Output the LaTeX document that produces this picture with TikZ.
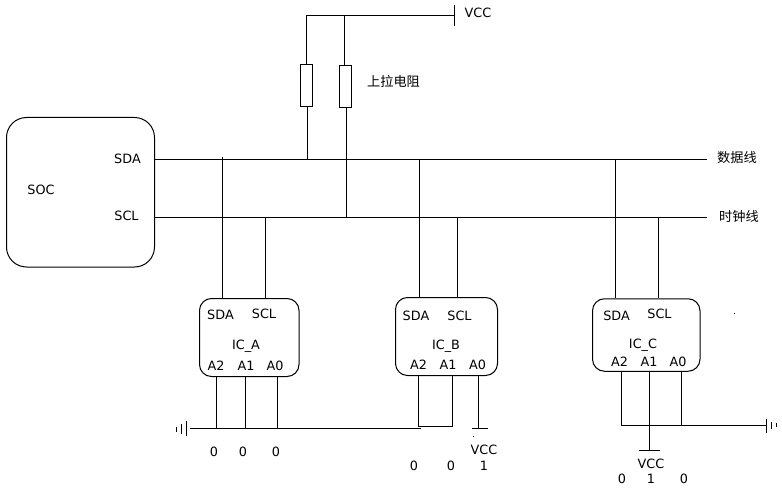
\documentclass[tikz,border=0pt]{standalone}
\usepackage{fontspec}
\setmainfont{DejaVu Sans}
\newfontfamily\cjkfont{Noto Sans CJK SC}
\tikzset{
  wire/.style={draw=black,line width=1pt},
  chipbox/.style={draw=black,line width=1pt,rectangle,inner sep=0pt,fill=white},
  lbl/.style={inner sep=0pt,text=black,font=\fontsize{12.8}{14}\selectfont},
  cjklbl/.style={inner sep=0pt,text=black,font=\fontsize{13.2}{15}\selectfont\cjkfont},
  resbox/.style={draw=black,line width=1pt,rectangle,inner sep=0pt,minimum width=12pt,minimum height=41.5pt,fill=white},
}
\begin{document}
\begin{tikzpicture}[x=1pt,y=-1pt]
\useasboundingbox[fill=white] (0,0) rectangle (782,492);
% boxes
\node[chipbox,rounded corners=20pt,minimum width=148pt,minimum height=149.5pt] (soc) at (80.5,192.25) {};
\node[chipbox,rounded corners=12pt,minimum width=99.5pt,minimum height=78pt] (ica) at (249.25,337.5) {};
\node[chipbox,rounded corners=12pt,minimum width=102pt,minimum height=78pt] (icb) at (446.5,336.5) {};
\node[chipbox,rounded corners=12pt,minimum width=107.5pt,minimum height=72.5pt] (icc) at (646.25,335) {};
\node[resbox] (r1) at (306.5,85.75) {};
\node[resbox] (r2) at (345.5,86.75) {};
% free-end coordinates
\coordinate (vccL) at (306.5,15.5);
\coordinate (vccM) at (344.5,15.5);
\coordinate (vccR) at (454.5,15.5);
\coordinate (vccT) at (454.5,5);
\coordinate (vccB) at (454.5,26);
\coordinate (dataEnd) at (707,159.5);
\coordinate (clkEnd) at (707,217.5);
\coordinate (r1bus) at (307.5,160);
\coordinate (r2bus) at (346.5,217.5);
% top pull-up
\draw[wire] (r1.north -| vccL) -- (vccL) -- (vccR);
\draw[wire] (vccM) -- (r2.north -| vccM);
\draw[wire] (vccT) -- (vccB);
\draw[wire] (r1bus |- r1.south) -- (r1bus);
\draw[wire] (r2bus |- r2.south) -- (r2bus);
% buses
\draw[wire] (soc.east |- dataEnd) -- (dataEnd);
\draw[wire] (soc.east |- clkEnd) -- (clkEnd);
% drops
\coordinate (aDa) at (222.5,157);
\coordinate (aCl) at (265.5,217.5);
\coordinate (bDa) at (419.5,159.5);
\coordinate (bCl) at (457.5,217.5);
\coordinate (cDa) at (615.5,159.5);
\coordinate (cCl) at (658.5,217.5);
\draw[wire] (aDa) -- (aDa |- ica.north);
\draw[wire] (aCl) -- (aCl |- ica.north);
\draw[wire] (bDa) -- (bDa |- icb.north);
\draw[wire] (bCl) -- (bCl |- icb.north);
\draw[wire] (cDa) -- (cDa |- icc.north);
\draw[wire] (cCl) -- (cCl |- icc.north);
% IC_A address lines
\coordinate (aGndS) at (190,428.5);
\coordinate (aGndE) at (421,428.5);
\coordinate (a2) at (216.5,428.5);
\coordinate (a1) at (245.5,428.5);
\coordinate (a0) at (277.5,428.5);
\draw[wire] (aGndS) -- (aGndE);
\draw[wire] (a2 |- ica.south) -- (a2);
\draw[wire] (a1 |- ica.south) -- (a1);
\draw[wire] (a0 |- ica.south) -- (a0);
\coordinate (g1t) at (186.5,421); \coordinate (g1b) at (186.5,436);
\coordinate (g2t) at (181.5,423.5); \coordinate (g2b) at (181.5,433.5);
\coordinate (g3t) at (176.5,426.5); \coordinate (g3b) at (176.5,431.5);
\draw[wire] (g1t) -- (g1b);
\draw[wire] (g2t) -- (g2b);
\draw[wire] (g3t) -- (g3b);
% IC_B address lines
\coordinate (b2) at (418.5,426.5);
\coordinate (b1) at (452.5,426.5);
\coordinate (b0) at (478.5,428.5);
\coordinate (bVl) at (472,428.5);
\coordinate (bVr) at (488,428.5);
\draw[wire] (b2 |- icb.south) -- (b2) -- (b1) -- (b1 |- icb.south);
\draw[wire] (b0 |- icb.south) -- (b0);
\draw[wire] (bVl) -- (bVr);
\fill[black] (473,435.5) rectangle (474,436.5);
% IC_C address lines
\coordinate (c2) at (621.5,425.5);
\coordinate (c1) at (649.5,425.5);
\coordinate (c0) at (681.5,425.5);
\coordinate (cGndE) at (766.5,425.5);
\coordinate (cVcc) at (649.5,450.5);
\coordinate (cVl) at (639,450.5);
\coordinate (cVr) at (660,450.5);
\draw[wire] (c2 |- icc.south) -- (c2) -- (cGndE);
\draw[wire] (c1 |- icc.south) -- (cVcc);
\draw[wire] (c0 |- icc.south) -- (c0);
\draw[wire] (cVl) -- (cVr);
\coordinate (h1t) at (766.5,419); \coordinate (h1b) at (766.5,432.5);
\coordinate (h2t) at (771.5,422); \coordinate (h2b) at (771.5,429);
\coordinate (h3t) at (776.5,423); \coordinate (h3b) at (776.5,427);
\draw[wire] (h1t) -- (h1b);
\draw[wire] (h2t) -- (h2b);
\draw[wire] (h3t) -- (h3b);
\fill[black] (734,313) rectangle (735,314);
% labels
\node[lbl] (tVcc) at (478,13) {VCC};
\node[cjklbl] (tPull) at (393.5,81) {上拉电阻};
\node[cjklbl] (tData) at (737,157) {数据线};
\node[cjklbl] (tClk) at (739,216.5) {时钟线};
\node[lbl] (tSda) at (127.5,158.5) {SDA};
\node[lbl] (tScl) at (126.5,216) {SCL};
\node[lbl] (tSoc) at (41,190) {SOC};
% IC_A
\node[lbl] (aSda) at (220.5,314.5) {SDA};
\node[lbl] (aScl) at (264,313.5) {SCL};
\node[lbl] (aName) at (246,346) {IC\_A};
\node[lbl] (aA2) at (216,366) {A2};
\node[lbl] (aA1) at (246,366) {A1};
\node[lbl] (aA0) at (275,366) {A0};
\node[lbl] (aD2) at (214,451.5) {0};
\node[lbl] (aD1) at (243,451.5) {0};
\node[lbl] (aD0) at (276,451.5) {0};
% IC_B
\node[lbl] (bSda) at (416,315.5) {SDA};
\node[lbl] (bScl) at (459.5,315.5) {SCL};
\node[lbl] (bName) at (446,346.5) {IC\_B};
\node[lbl] (bA2) at (418.5,365) {A2};
\node[lbl] (bA1) at (448,365) {A1};
\node[lbl] (bA0) at (477.5,365) {A0};
\node[lbl] (bVcc) at (484,450) {VCC};
\node[lbl] (bD2) at (414,466) {0};
\node[lbl] (bD1) at (451,466) {0};
\node[lbl] (bD0) at (484,466) {1};
% IC_C
\node[lbl] (cSda) at (616.5,315.5) {SDA};
\node[lbl] (cScl) at (659.5,314) {SCL};
\node[lbl] (cName) at (643,345.5) {IC\_C};
\node[lbl] (cA2) at (619.5,361.5) {A2};
\node[lbl] (cA1) at (649,361.5) {A1};
\node[lbl] (cA0) at (678,361.5) {A0};
\node[lbl] (cVccT) at (651,464) {VCC};
\node[lbl] (cD2) at (622,479) {0};
\node[lbl] (cD1) at (651,479) {1};
\node[lbl] (cD0) at (684,479) {0};
\end{tikzpicture}
\end{document}
